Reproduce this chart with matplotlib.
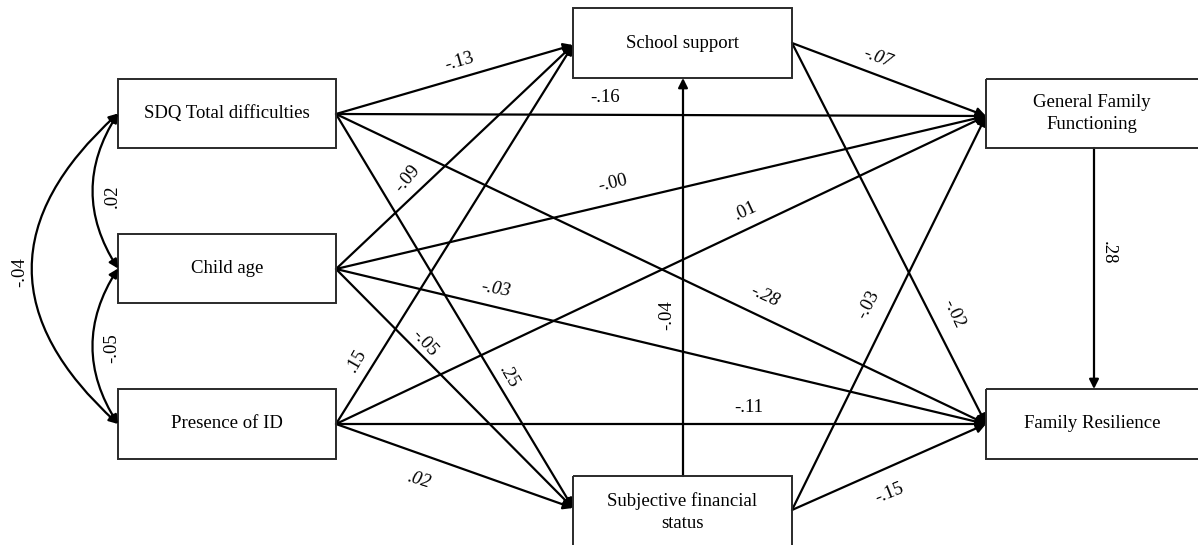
import matplotlib.pyplot as plt
from matplotlib.patches import Rectangle

plt.rcParams['font.family'] = ['Liberation Serif', 'DejaVu Serif']

# variables in the path model
nodes = ['SDQ Total difficulties', 'Child age', 'Presence of ID', 'School support',
         'Subjective financial\nstatus', 'General Family\nFunctioning', 'Family Resilience']

# directed paths: (from, to, standardized coefficient)
path_from = ['SDQ', 'SDQ', 'SDQ', 'SDQ',
             'AGE', 'AGE', 'AGE', 'AGE',
             'ID', 'ID', 'ID', 'ID',
             'SS', 'SS', 'SFS', 'SFS', 'SFS', 'GFF']
path_to = ['SS', 'GFF', 'FR', 'SFS',
           'SS', 'GFF', 'FR', 'SFS',
           'SS', 'GFF', 'FR', 'SFS',
           'GFF', 'FR', 'GFF', 'FR', 'SS', 'FR']
path_coef = ['-.13', '-.16', '-.28', '.25',
             '-.09', '-.00', '-.03', '-.05',
             '.15', '.01', '-.11', '.02',
             '-.07', '-.02', '-.03', '-.15', '-.04', '.28']

# covariances among the exogenous variables
cov_pairs = [('SDQ', 'AGE'), ('AGE', 'ID'), ('SDQ', 'ID')]
cov_coef = ['.02', '-.05', '-.04']

# ---- layout (pixel space) ----
keys = ['SDQ', 'AGE', 'ID', 'SS', 'SFS', 'GFF', 'FR']
box = {  # x0, y0, x1, y1
    'SDQ': (118, 79, 336, 148),
    'AGE': (118, 234, 336, 303),
    'ID': (118, 389, 336, 459),
    'SS': (573, 8, 792, 78),
    'SFS': (573, 476, 792, 560),
    'GFF': (986, 79, 1200, 148),
    'FR': (986, 389, 1200, 459),
}
out_pt = {'SDQ': (336, 114), 'AGE': (336, 269), 'ID': (336, 424),
          'SS': (792, 43), 'SFS': (792, 510), 'GFF': (1094, 148)}
in_pt = {'SS': (573, 45), 'SFS': (573, 508), 'GFF': (986, 116), 'FR': (986, 424)}
special = {('SFS', 'SS'): ((683, 476), (683, 78)),
           ('GFF', 'FR'): ((1094, 148), (1094, 389))}

# label placement: centre, rotation, italic
lab = {
    ('SDQ', 'SS'): (459, 62, 16, False),
    ('SDQ', 'GFF'): (605, 97, 0, False),
    ('SDQ', 'FR'): (765, 296, -25, True),
    ('SDQ', 'SFS'): (509, 377, -60, False),
    ('AGE', 'SS'): (407, 179, 50, False),
    ('AGE', 'GFF'): (613, 183, 13, False),
    ('AGE', 'FR'): (496, 289, -10, True),
    ('AGE', 'SFS'): (425, 343, -48, False),
    ('ID', 'SS'): (357, 361, 60, False),
    ('ID', 'GFF'): (745, 211, 25, False),
    ('ID', 'FR'): (749, 408, 0, False),
    ('ID', 'SFS'): (419, 480, -17, True),
    ('SS', 'GFF'): (878, 58, -20, True),
    ('SS', 'FR'): (954, 314, -65, False),
    ('SFS', 'GFF'): (868, 305, 62, False),
    ('SFS', 'FR'): (889, 493, 22, False),
    ('SFS', 'SS'): (667, 315, 90, False),
    ('GFF', 'FR'): (1108, 253, -90, False),
}
cov_geom = {('SDQ', 'AGE'): (0.32, 112, 196), ('AGE', 'ID'): (0.32, 112, 348),
            ('SDQ', 'ID'): (0.55, 20, 272)}

fig = plt.figure(figsize=(11.98, 5.45), dpi=100)
ax = fig.add_axes([0, 0, 1, 1])
ax.set_xlim(0, 1198)
ax.set_ylim(545, 0)
ax.axis('off')

for k, name in zip(keys, nodes):
    x0, y0, x1, y1 = box[k]
    ax.add_patch(Rectangle((x0, y0), x1 - x0, y1 - y0, fill=False,
                           edgecolor='#2a2a2a', lw=1.4, zorder=3))
    cy = (y0 + min(y1, 545)) / 2 if k != 'SFS' else 512
    ax.text((x0 + min(x1, 1198)) / 2, cy, name, ha='center', va='center',
            fontsize=13.5, linespacing=1.45, zorder=4)

arrow_kw = dict(arrowstyle='-|>', lw=1.6, color='black', mutation_scale=14,
                shrinkA=0, shrinkB=0)
for a, b, c in zip(path_from, path_to, path_coef):
    if (a, b) in special:
        start, end = special[(a, b)]
    else:
        start, end = out_pt[a], in_pt[b]
    ax.annotate('', xy=end, xytext=start, arrowprops=arrow_kw, zorder=2)
    x, y, rot, it = lab[(a, b)]
    ax.text(x, y, c, ha='center', va='center', rotation=rot, fontsize=13.5,
            style='italic' if it else 'normal', rotation_mode='anchor')

for (a, b), c in zip(cov_pairs, cov_coef):
    rad, lx, ly = cov_geom[(a, b)]
    ya = (box[a][1] + box[a][3]) / 2
    yb = (box[b][1] + box[b][3]) / 2
    ax.annotate('', xy=(118, yb), xytext=(118, ya),
                arrowprops=dict(arrowstyle='<|-|>', lw=1.6, color='black',
                                mutation_scale=13, shrinkA=0, shrinkB=0,
                                connectionstyle='arc3,rad=%.2f' % rad))
    ax.text(lx, ly, c, ha='center', va='center', rotation=90, fontsize=13.5)

fig.savefig('out.png', dpi=100)
